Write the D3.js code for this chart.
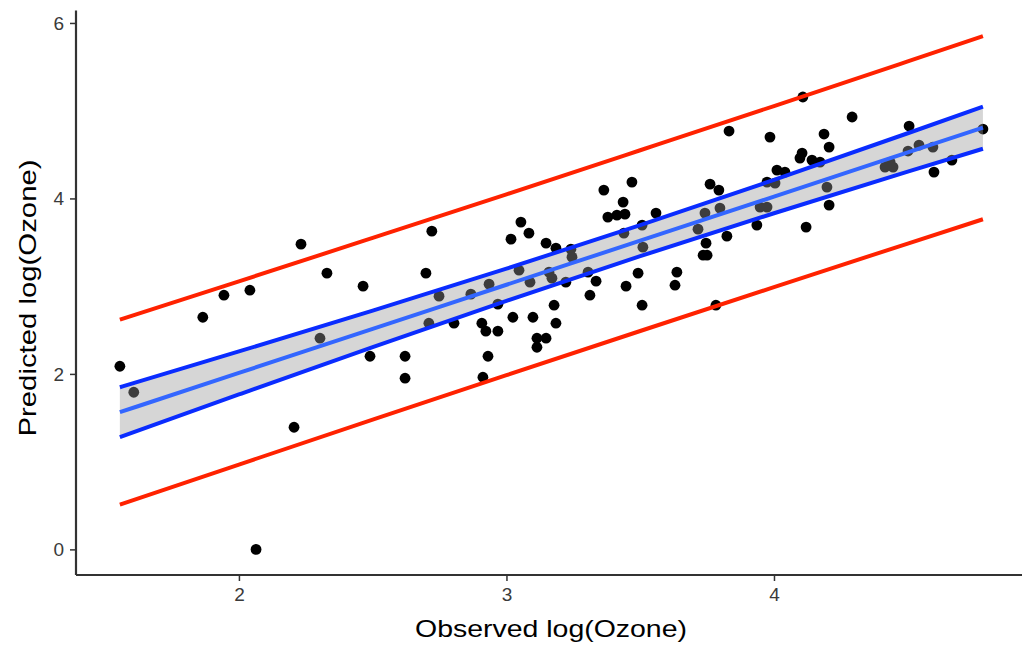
<!DOCTYPE html>
<html><head><meta charset="utf-8">
<script src="https://cdn.jsdelivr.net/npm/d3@7"></script>
<style>body{margin:0;background:#fff}svg{display:block}</style>
</head><body>
<svg id="c" width="1022" height="649"></svg>
<script>
const observed = [1.555,1.607,1.865,1.944,2.041,2.064,2.206,2.232,2.303,2.329,2.464,2.490,2.621,2.621,2.721,2.699,2.748,2.710,2.804,2.867,2.935,2.908,2.923,2.968,2.968,2.931,2.912,
3.364,3.469,3.436,3.379,3.413,3.443,3.559,3.507,3.439,3.510,3.492,3.447,3.507,3.637,3.630,3.054,3.084,3.017,3.148,3.185,3.241,3.245,3.047,3.088,3.159,3.170,3.222,3.305,3.335,3.312,3.178,3.024,3.099,3.185,3.114,3.148,3.114,
4.108,4.292,3.832,3.985,4.187,4.206,4.105,4.097,4.142,4.172,4.011,4.041,3.974,4.004,3.761,3.794,4.198,4.206,3.742,3.798,3.948,3.974,3.716,3.936,4.120,3.824,3.746,3.735,3.750,3.783,
4.505,4.781,4.434,4.445,4.415,4.501,4.542,4.594,4.665,4.598];
const predicted = [2.087,1.791,2.646,2.897,2.954,0.000,1.392,3.479,2.407,3.148,3.000,2.201,2.201,1.951,3.627,3.148,2.886,2.578,2.578,2.909,3.023,2.578,2.487,2.487,2.795,2.201,1.962,
4.095,4.186,3.958,3.787,3.810,3.821,3.833,3.696,3.604,3.445,3.148,3.000,2.783,3.160,3.011,3.730,3.604,3.536,3.490,3.433,3.422,3.331,3.182,3.046,3.160,3.091,3.046,3.160,3.057,2.897,2.783,2.646,2.646,2.578,2.407,2.407,2.304,
5.156,4.928,4.768,4.699,4.734,4.585,4.517,4.460,4.437,4.414,4.323,4.300,4.186,4.175,4.163,4.095,4.129,3.924,3.833,3.890,3.901,3.901,3.650,3.696,3.673,3.570,3.490,3.353,3.353,2.783,
4.825,4.791,4.414,4.357,4.357,4.540,4.608,4.585,4.437,4.300];

const lineX   = [1.555, 2.0, 2.5, 3.0, 3.5, 4.0, 4.5, 4.781];
const fitY    = [1.564, 2.011, 2.514, 3.016, 3.519, 4.021, 4.524, 4.806];
const ciUpper = [1.848, 2.256, 2.722, 3.199, 3.696, 4.211, 4.743, 5.046];
const ciLower = [1.280, 1.766, 2.306, 2.833, 3.342, 3.831, 4.305, 4.566];
const piUpper = [2.618, 3.055, 3.550, 4.047, 4.549, 5.053, 5.562, 5.849];
const piLower = [0.510, 0.967, 1.478, 1.985, 2.489, 2.989, 3.486, 3.763];

const xTicks = [2, 3, 4];
const yTicks = [0, 2, 4, 6];
const xTitle = "Observed log(Ozone)";
const yTitle = "Predicted log(Ozone)";

const FONT = "Liberation Sans, Arial, sans-serif";
const svg = d3.select("#c");
const x = d3.scaleLinear().domain([1.391, 4.942]).range([76, 1026]);
const y = d3.scaleLinear().domain([-0.292, 6.142]).range([575, 10.5]);

// points
svg.append("g").selectAll("circle").data(observed).join("circle")
  .attr("cx", (d,i) => x(d)).attr("cy", (d,i) => y(predicted[i]))
  .attr("r", 5.4).attr("fill", "#000");

const idx = d3.range(lineX.length);
// ribbon
svg.append("path")
  .attr("d", d3.area().x(i => x(lineX[i])).y0(i => y(ciLower[i])).y1(i => y(ciUpper[i])).curve(d3.curveMonotoneX)(idx))
  .attr("fill", "#999999").attr("fill-opacity", 0.4);

const line = arr => d3.line().x(i => x(lineX[i])).y(i => y(arr[i])).curve(d3.curveMonotoneX)(idx);
const lines = [[piUpper, "#ff2200"], [piLower, "#ff2200"], [ciUpper, "#0a2cff"], [ciLower, "#0a2cff"], [fitY, "#3366ff"]];
lines.forEach(([arr, col]) => {
  svg.append("path").attr("d", line(arr)).attr("fill", "none")
    .attr("stroke", col).attr("stroke-width", 4);
});

// axes
const xAxis = svg.append("g").attr("transform", "translate(0,575)")
  .call(d3.axisBottom(x).tickValues(xTicks).tickFormat(d3.format("d")).tickSizeOuter(0).tickSize(6).tickPadding(7));
const yAxis = svg.append("g").attr("transform", "translate(76,0)")
  .call(d3.axisLeft(y).tickValues(yTicks).tickFormat(d3.format("d")).tickSizeOuter(0).tickSize(6).tickPadding(6));
[xAxis, yAxis].forEach(g => {
  g.attr("font-size", 19).attr("font-family", FONT);
  g.select(".domain").attr("stroke", "#333").attr("stroke-width", 2.2);
  g.selectAll(".tick line").attr("stroke", "#333").attr("stroke-width", 1.5);
  g.selectAll(".tick text").attr("fill", "#3a3a3a");
});
yAxis.select(".domain").attr("d", "M0,575V10.5");
xAxis.select(".domain").attr("d", "M76,0H1022");

svg.append("text").attr("x", 551).attr("y", 637).attr("text-anchor", "middle")
  .attr("textLength", 272).attr("lengthAdjust", "spacingAndGlyphs")
  .attr("font-family", FONT).attr("font-size", 24).attr("fill", "#000").text(xTitle);
svg.append("text").attr("transform", "translate(36,298) rotate(-90)").attr("text-anchor", "middle")
  .attr("textLength", 277).attr("lengthAdjust", "spacingAndGlyphs")
  .attr("font-family", FONT).attr("font-size", 24).attr("fill", "#000").text(yTitle);
</script>
</body></html>
